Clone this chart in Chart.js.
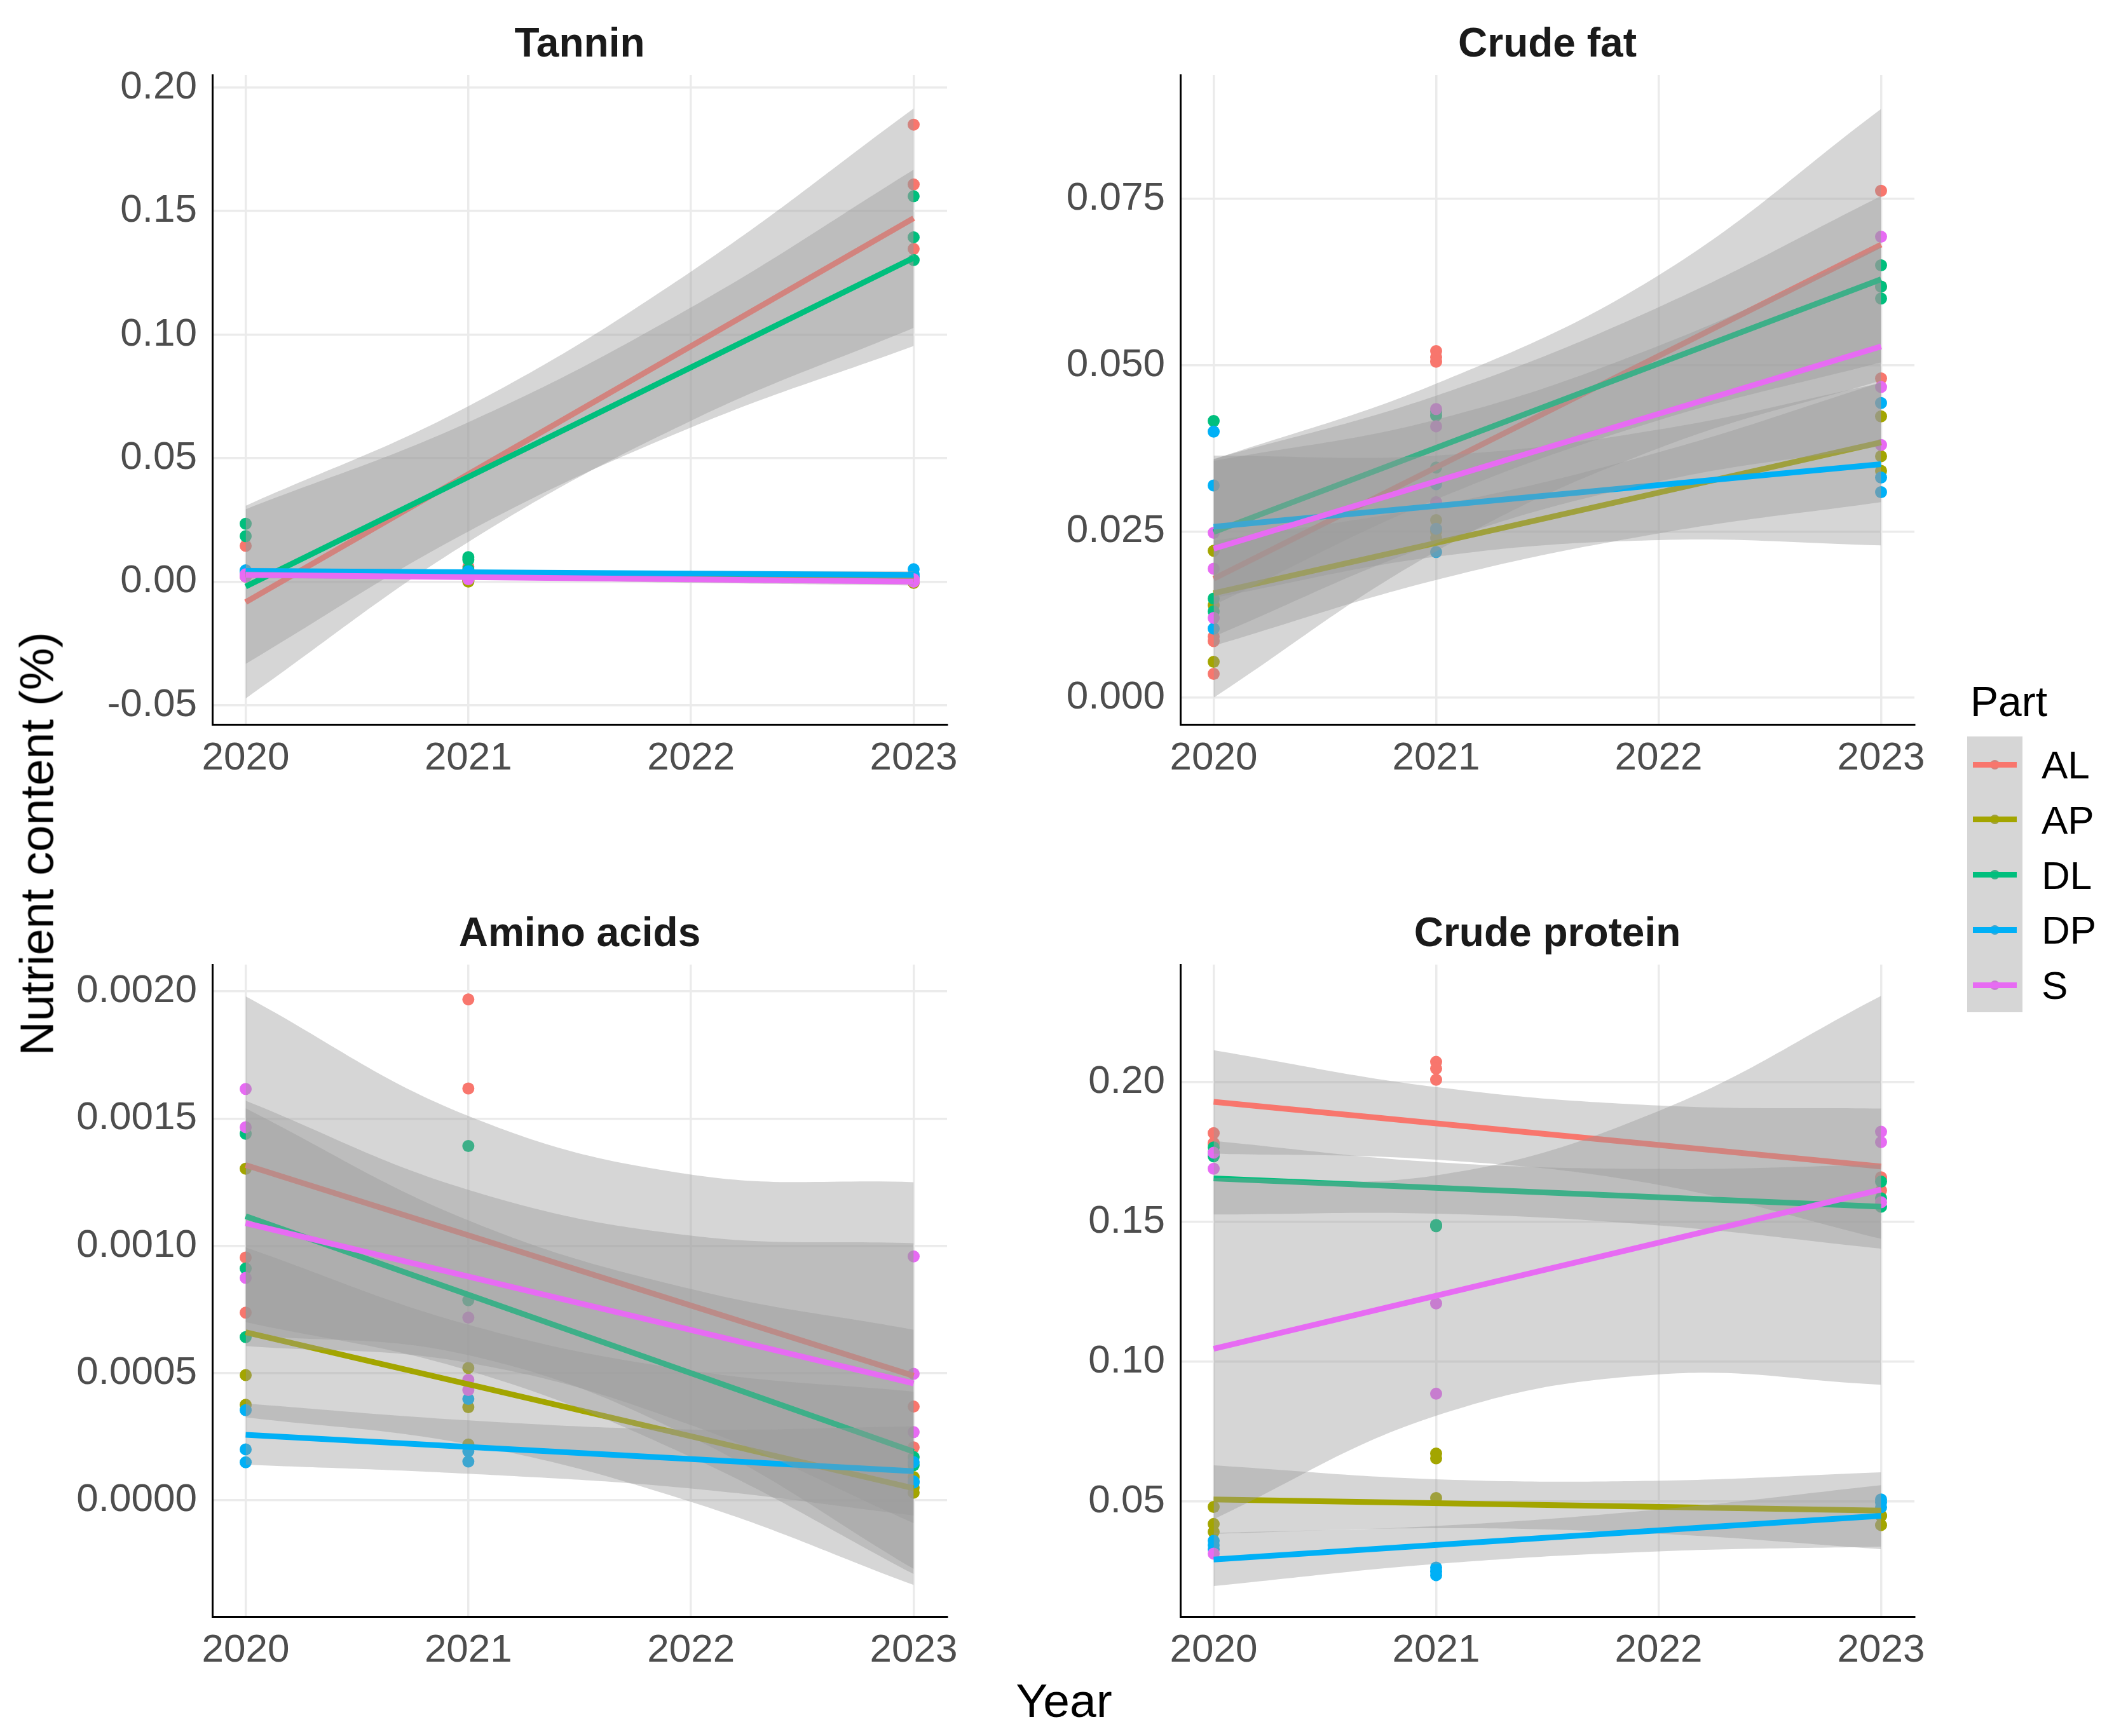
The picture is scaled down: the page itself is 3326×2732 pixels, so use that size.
<!DOCTYPE html>
<html>
<head>
<meta charset="utf-8">
<script src="https://cdn.jsdelivr.net/npm/chart.js"></script>
<style>
  body { margin: 0; background: #fff; width: 3326px; height: 2732px; position: relative; overflow: hidden;
         font-family: "Liberation Sans", Arial, sans-serif; }
  canvas { position: absolute; }
  .title { position: absolute; font-weight: bold; font-size: 64px; line-height: 64px; color: #1a1a1a;
           transform: translate(-50%, -50%); white-space: nowrap; }
  .axisTitle { position: absolute; font-size: 75px; line-height: 75px; color: #000; white-space: nowrap; }
  .abs { position: absolute; }
</style>
</head>
<body>
<script>
// ---- data ----
const parts = ["AL", "AP", "DL", "DP", "S"];
const partColors = ["#F8766D", "#A3A500", "#00BF7D", "#00B0F6", "#E76BF3"];

const pointYears = [2020, 2021, 2023];
const bandYears = [2020, 2021, 2022, 2023];
const fitYears = [2020, 2023];
const xTicks = [2020, 2021, 2022, 2023];
const xTickLabels = ["2020", "2021", "2022", "2023"];

// Tannin
const tanninTicks = [-0.05, 0, 0.05, 0.10, 0.15, 0.20];
const tanninTickLabels = ["-0.05", "0.00", "0.05", "0.10", "0.15", "0.20"];
const tanninFit = [[-0.0083, 0.1471], [0.0030, 0.0010], [-0.0020, 0.1311], [0.0043, 0.0027], [0.0027, 0.0000]];
const tanninUpper = [
  [0.0307, 0.0710, 0.1255, 0.1915],
  [0.0045, 0.0032, 0.0026, 0.0028],
  [0.0293, 0.0645, 0.1110, 0.1668],
  [0.0056, 0.0047, 0.0043, 0.0042],
  [0.0041, 0.0027, 0.0019, 0.0016]
];
const tanninLower = [
  [-0.0473, 0.0160, 0.0651, 0.1027],
  [0.0015, 0.0012, 0.0002, -0.0008],
  [-0.0333, 0.0203, 0.0624, 0.0954],
  [0.0030, 0.0029, 0.0025, 0.0012],
  [0.0013, 0.0009, -0.0005, -0.0016]
];
const tanninPoints = [
  [[0.0145, 0.0040, 0.0030], [0.0060, 0.0030, 0.0020], [0.1850, 0.1608, 0.1347]],
  [[0.0040, 0.0030, 0.0020], [0.0010, 0.0005, 0.0000], [0.0010, 0.0000, -0.0005]],
  [[0.0234, 0.0184, 0.0040], [0.0099, 0.0088, 0.0050], [0.1560, 0.1394, 0.1302]],
  [[0.0046, 0.0040, 0.0035], [0.0042, 0.0032, 0.0025], [0.0050, 0.0030, 0.0020]],
  [[0.0030, 0.0025, 0.0020], [0.0020, 0.0015, 0.0010], [0.0010, 0.0000, 0.0000]]
];

// Crude fat
const fatTicks = [0, 0.025, 0.05, 0.075];
const fatTickLabels = ["0.000", "0.025", "0.050", "0.075"];
const fatFit = [[0.0179, 0.0681], [0.0157, 0.0384], [0.0249, 0.0629], [0.0257, 0.0351], [0.0224, 0.0528]];
const fatUpper = [
  [0.0358, 0.0472, 0.0635, 0.0885],
  [0.0236, 0.0289, 0.0369, 0.0474],
  [0.0359, 0.0454, 0.0587, 0.0754],
  [0.0364, 0.0364, 0.0403, 0.0473],
  [0.0356, 0.0418, 0.0529, 0.0678]
];
const fatLower = [
  [0.0000, 0.0220, 0.0375, 0.0477],
  [0.0078, 0.0177, 0.0247, 0.0294],
  [0.0139, 0.0298, 0.0417, 0.0504],
  [0.0150, 0.0212, 0.0237, 0.0229],
  [0.0092, 0.0232, 0.0325, 0.0378]
];
const fatPoints = [
  [[0.0092, 0.0085, 0.0036], [0.0521, 0.0512, 0.0505], [0.0762, 0.0618, 0.0480]],
  [[0.0221, 0.0139, 0.0054], [0.0267, 0.0250, 0.0240], [0.0423, 0.0363, 0.0341]],
  [[0.0416, 0.0149, 0.0130], [0.0430, 0.0424, 0.0346], [0.0650, 0.0618, 0.0600]],
  [[0.0400, 0.0319, 0.0104], [0.0321, 0.0254, 0.0219], [0.0443, 0.0331, 0.0309]],
  [[0.0248, 0.0194, 0.0120], [0.0434, 0.0408, 0.0294], [0.0693, 0.0467, 0.0380]]
];

// Amino acids
const aminoTicks = [0, 0.0005, 0.0010, 0.0015, 0.0020];
const aminoTickLabels = ["0.0000", "0.0005", "0.0010", "0.0015", "0.0020"];
const aminoFit = [[0.001317, 0.000489], [0.000660, 0.000047], [0.001116, 0.000191], [0.000257, 0.000114], [0.001089, 0.000459]];
const aminoUpper = [
  [0.00198, 0.00151, 0.00128, 0.00125],
  [0.000994, 0.00069, 0.00051, 0.000427],
  [0.00154, 0.00110, 0.00083, 0.00067],
  [0.00038, 0.000314, 0.000278, 0.00029],
  [0.00157, 0.00122, 0.00104, 0.00101]
];
const aminoLower = [
  [0.00065, 0.00057, 0.000248, -0.00027],
  [0.000326, 0.00022, -0.000006, -0.000333],
  [0.00070, 0.00051, 0.00017, -0.00029],
  [0.00014, 0.000104, 0.000046, -0.00006],
  [0.000606, 0.00054, 0.000295, -0.00009]
];
const aminoPoints = [
  [[0.000954, 0.000737], [0.001968, 0.001618], [0.000368, 0.000208]],
  [[0.001303, 0.000492, 0.000375], [0.000520, 0.000366, 0.000219], [0.000091, 0.000050, 0.000030]],
  [[0.001440, 0.000911, 0.000641], [0.001392, 0.000786], [0.000170, 0.000138]],
  [[0.000354, 0.000200, 0.000149], [0.000398, 0.000193, 0.000152], [0.000150, 0.000074, 0.000070]],
  [[0.001616, 0.001466, 0.000874], [0.000718, 0.000473, 0.000433], [0.000958, 0.000497, 0.000268]]
];

// Crude protein
const proteinTicks = [0.05, 0.10, 0.15, 0.20];
const proteinTickLabels = ["0.05", "0.10", "0.15", "0.20"];
const proteinFit = [[0.1930, 0.1699], [0.0508, 0.0468], [0.1656, 0.1555], [0.0293, 0.0449], [0.1047, 0.1616]];
const proteinUpper = [
  [0.2115, 0.1983, 0.1917, 0.1906],
  [0.0630, 0.0580, 0.0575, 0.0605],
  [0.1790, 0.1714, 0.1690, 0.1705],
  [0.0388, 0.0413, 0.0472, 0.0559],
  [0.1657, 0.1667, 0.1897, 0.2309]
];
const proteinLower = [
  [0.1745, 0.1723, 0.1633, 0.1440],
  [0.0385, 0.0405, 0.0385, 0.0330],
  [0.1527, 0.1530, 0.1488, 0.1405],
  [0.0198, 0.0277, 0.0322, 0.0339],
  [0.0437, 0.0807, 0.0955, 0.0918]
];
const proteinPoints = [
  [[0.1818, 0.1783, 0.1780], [0.2073, 0.2049, 0.2009], [0.1656, 0.1613, 0.1660]],
  [[0.0481, 0.0420, 0.0392], [0.0672, 0.0655, 0.0513], [0.0449, 0.0416, 0.0450]],
  [[0.1767, 0.1748, 0.1735], [0.1489, 0.1485, 0.1489], [0.1645, 0.1585, 0.1555]],
  [[0.0360, 0.0344, 0.0330], [0.0264, 0.0237, 0.0250], [0.0508, 0.0497, 0.0480]],
  [[0.1691, 0.0314, 0.1748], [0.1209, 0.0886], [0.1823, 0.1786, 0.1571]]
];

// ---- layout ----
const FONT = "'Liberation Sans', Arial, sans-serif";
const bandFill = "rgba(153,153,153,0.4)";
const padL = 330, padT = 80, padR = 80, padB = 150;

const panels = [
  { title: "Tannin", box: [334, 118, 1490, 1140], yMin: -0.0578, yMax: 0.2051,
    ticks: tanninTicks, labels: tanninTickLabels, fit: tanninFit, upper: tanninUpper, lower: tanninLower, points: tanninPoints },
  { title: "Crude fat", box: [1857, 118, 3012, 1140], yMin: -0.0040, yMax: 0.0936,
    ticks: fatTicks, labels: fatTickLabels, fit: fatFit, upper: fatUpper, lower: fatLower, points: fatPoints },
  { title: "Amino acids", box: [334, 1518, 1490, 2544], yMin: -0.000457, yMax: 0.002105,
    ticks: aminoTicks, labels: aminoTickLabels, fit: aminoFit, upper: aminoUpper, lower: aminoLower, points: aminoPoints },
  { title: "Crude protein", box: [1857, 1518, 3012, 2544], yMin: 0.0089, yMax: 0.2421,
    ticks: proteinTicks, labels: proteinTickLabels, fit: proteinFit, upper: proteinUpper, lower: proteinLower, points: proteinPoints }
];

function makePanel(p) {
  const [l, t, r, b] = p.box;
  const w = r - l + padL + padR, h = b - t + padT + padB;
  const canvas = document.createElement("canvas");
  canvas.width = w; canvas.height = h;
  canvas.style.left = (l - padL) + "px";
  canvas.style.top = (t - padT) + "px";
  canvas.style.width = w + "px";
  canvas.style.height = h + "px";
  document.body.appendChild(canvas);

  const title = document.createElement("div");
  title.className = "title";
  title.textContent = p.title;
  title.style.left = ((l + r) / 2) + "px";
  title.style.top = (t - 51) + "px";
  document.body.appendChild(title);

  // points first, then ribbon + line per group (ggplot drawing order)
  const datasets = [];
  parts.forEach((part, i) => {
    const pts = [];
    pointYears.forEach((yr, j) => p.points[i][j].forEach(v => pts.push({ x: yr, y: v })));
    datasets.push({ type: "scatter", label: part, data: pts, backgroundColor: partColors[i],
      pointRadius: 9.5, pointHoverRadius: 9.5, pointBorderWidth: 0 });
  });
  parts.forEach((part, i) => {
    datasets.push({ type: "line", data: bandYears.map((yr, j) => ({ x: yr, y: p.upper[i][j] })),
      fill: "+1", backgroundColor: bandFill, borderColor: "rgba(0,0,0,0)", borderWidth: 0,
      pointRadius: 0, tension: 0.4 });
    datasets.push({ type: "line", data: bandYears.map((yr, j) => ({ x: yr, y: p.lower[i][j] })),
      fill: false, borderColor: "rgba(0,0,0,0)", borderWidth: 0, pointRadius: 0, tension: 0.4 });
    datasets.push({ type: "line", data: fitYears.map((yr, j) => ({ x: yr, y: p.fit[i][j] })),
      fill: false, borderColor: partColors[i], borderWidth: 9, pointRadius: 0, borderCapStyle: "butt" });
  });
  datasets.forEach((d, k) => { d.order = datasets.length - k; });

  new Chart(canvas, {
    type: "scatter",
    data: { datasets: datasets },
    options: {
      responsive: false,
      animation: false,
      devicePixelRatio: 1,
      layout: { padding: { left: 0, top: padT, right: padR, bottom: 0 } },
      plugins: { legend: { display: false }, tooltip: { enabled: false }, title: { display: false } },
      scales: {
        x: {
          type: "linear", min: 2019.85, max: 2023.15,
          afterBuildTicks: s => { s.ticks = xTicks.map(v => ({ value: v })); },
          afterFit: s => { s.height = padB; },
          grid: { color: "#EBEBEB", lineWidth: 3.5, drawTicks: false },
          border: { display: true, color: "#000", width: 3 },
          ticks: { autoSkip: false, maxRotation: 0, padding: 17, color: "#4D4D4D",
            font: { family: FONT, size: 62 }, callback: (v, idx) => xTickLabels[idx] }
        },
        y: {
          type: "linear", min: p.yMin, max: p.yMax,
          afterBuildTicks: s => { s.ticks = p.ticks.map(v => ({ value: v })); },
          afterFit: s => { s.width = padL; },
          grid: { color: "#EBEBEB", lineWidth: 3.5, drawTicks: false },
          border: { display: true, color: "#000", width: 3 },
          ticks: { padding: 24, color: "#4D4D4D",
            font: { family: FONT, size: 62 }, callback: (v, idx) => p.labels[idx] }
        }
      }
    }
  });
}

panels.forEach(makePanel);

// axis titles
const yTitle = document.createElement("div");
yTitle.className = "axisTitle";
yTitle.textContent = "Nutrient content (%)";
yTitle.style.left = "58px";
yTitle.style.top = "1328px";
yTitle.style.transform = "translate(-50%, -50%) rotate(-90deg)";
document.body.appendChild(yTitle);

const xTitle = document.createElement("div");
xTitle.className = "axisTitle";
xTitle.textContent = "Year";
xTitle.style.left = "1674px";
xTitle.style.top = "2676px";
xTitle.style.transform = "translate(-50%, -50%)";
document.body.appendChild(xTitle);

// legend
function addDiv(css, text) {
  const d = document.createElement("div");
  d.className = "abs";
  Object.assign(d.style, css);
  if (text) d.textContent = text;
  document.body.appendChild(d);
  return d;
}
addDiv({ left: "3100px", top: "1071px", fontSize: "66px", lineHeight: "66px", color: "#000" }, "Part");
const keyTop = 1159, keyStep = 86.75;
parts.forEach((part, i) => {
  const cy = keyTop + 44 + i * keyStep;
  addDiv({ left: "3131px", top: (cy - 7.5) + "px", width: "15px", height: "15px", borderRadius: "50%",
    background: partColors[i] });
});
addDiv({ left: "3095px", top: keyTop + "px", width: "87px", height: "434px", background: bandFill });
parts.forEach((part, i) => {
  const cy = keyTop + 44 + i * keyStep;
  addDiv({ left: "3104px", top: (cy - 4.5) + "px", width: "69px", height: "9px", background: partColors[i] });
  addDiv({ left: "3212px", top: (cy - 30) + "px", fontSize: "62px", lineHeight: "62px", color: "#000" }, part);
});
</script>
</body>
</html>
